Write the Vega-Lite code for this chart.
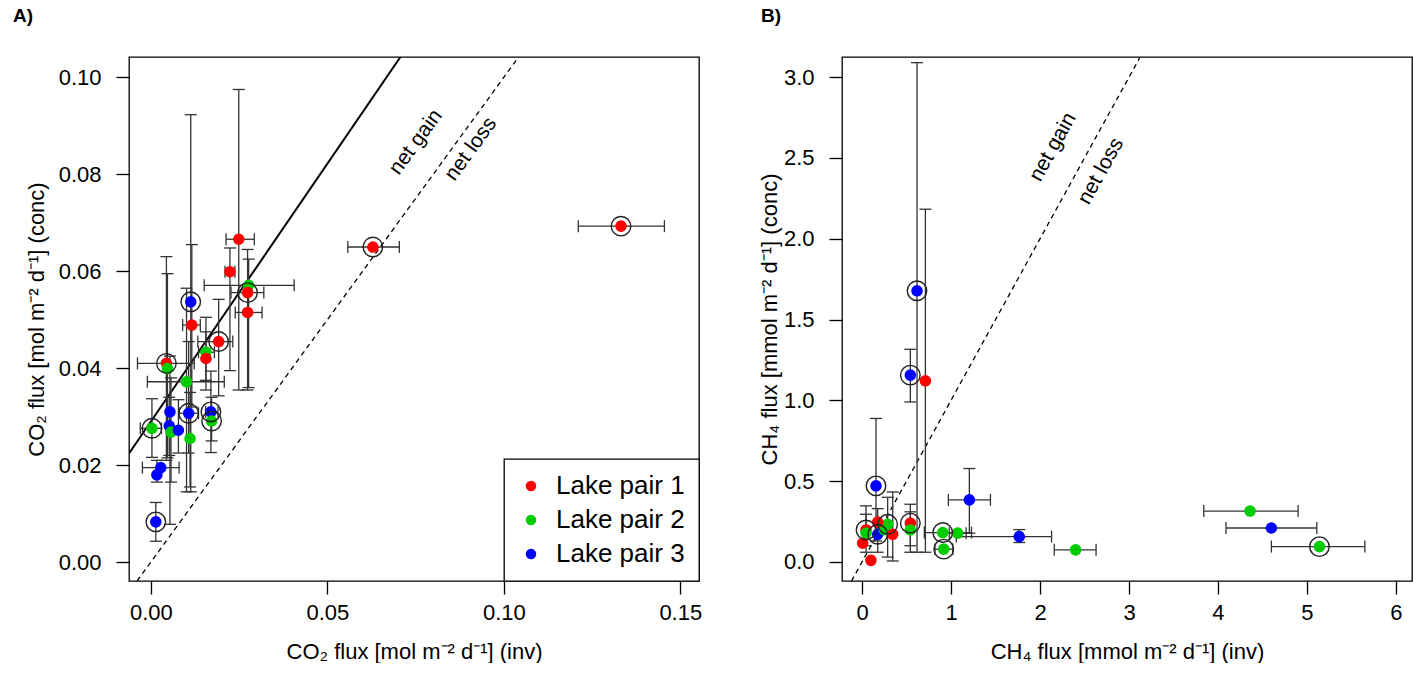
{
"$schema":"https://vega.github.io/schema/vega-lite/v6.json",
"background":"white",
"padding":{"left":12,"top":6,"right":0,"bottom":0},
"spacing":143,
"bounds":"flush",
"resolve":{"scale":{"color":"independent"},"legend":{"color":"independent"}},
"config":{
 "view":{"stroke":"black","strokeWidth":1.3},
 "axis":{"domain":false,"grid":false,"tickSize":13,"tickColor":"black","tickWidth":1.3,"labelFontSize":22,"titleFontSize":22,"labelFont":"Liberation Sans","titleFont":"Liberation Sans","labelColor":"black","titleColor":"black","titleFontWeight":"normal","labelFlush":false,"labelOverlap":false,"labelPadding":8,"titlePadding":18},
 "axisY":{"labelPadding":15,"titlePadding":10},
 "legend":{"orient":"bottom-right","offset":0,"strokeColor":"black","fillColor":"white","padding":14,"labelFontSize":26,"labelFont":"Liberation Sans","labelColor":"black","symbolType":"circle","symbolSize":110,"symbolStrokeWidth":0,"labelOffset":12,"rowPadding":8,"strokeWidth":1.3}
},
"datasets":{
"A":[
{"x":0.0249,"y":0.0666,"pair":"Lake pair 1","circ":false,"xlo":0.0213,"xhi":0.0293,"ylo":0.0355,"yhi":0.0975},
{"x":0.0224,"y":0.0599,"pair":"Lake pair 1","circ":false,"xlo":0.021,"xhi":0.0238,"ylo":0.0395,"yhi":0.0648},
{"x":0.0277,"y":0.0571,"pair":"Lake pair 2","circ":false,"xlo":0.0151,"xhi":0.0406,"ylo":0.036,"yhi":0.0625},
{"x":0.0274,"y":0.0556,"pair":"Lake pair 1","circ":true,"xlo":0.0227,"xhi":0.032,"ylo":0.0355,"yhi":0.0645},
{"x":0.0274,"y":0.0515,"pair":"Lake pair 1","circ":false,"xlo":0.0239,"xhi":0.0315,"ylo":null,"yhi":null},
{"x":0.0113,"y":0.0537,"pair":"Lake pair 3","circ":true,"xlo":null,"xhi":null,"ylo":0.0145,"yhi":0.0923},
{"x":0.0116,"y":0.0489,"pair":"Lake pair 1","circ":false,"xlo":0.009,"xhi":0.014,"ylo":0.032,"yhi":0.0655},
{"x":0.0192,"y":0.0455,"pair":"Lake pair 1","circ":true,"xlo":0.0133,"xhi":0.0232,"ylo":0.0343,"yhi":0.0542},
{"x":0.0156,"y":0.0433,"pair":"Lake pair 2","circ":false,"xlo":0.0135,"xhi":0.018,"ylo":0.0355,"yhi":0.0505},
{"x":0.0156,"y":0.042,"pair":"Lake pair 1","circ":false,"xlo":null,"xhi":null,"ylo":0.0375,"yhi":0.0475},
{"x":0.0044,"y":0.041,"pair":"Lake pair 1","circ":true,"xlo":-0.0038,"xhi":0.0123,"ylo":0.021,"yhi":0.063},
{"x":0.0047,"y":0.0399,"pair":"Lake pair 2","circ":false,"xlo":null,"xhi":null,"ylo":0.0215,"yhi":0.0595},
{"x":0.0101,"y":0.0372,"pair":"Lake pair 2","circ":false,"xlo":-0.001,"xhi":0.0208,"ylo":0.0145,"yhi":0.0565},
{"x":0.0054,"y":0.031,"pair":"Lake pair 3","circ":false,"xlo":null,"xhi":null,"ylo":0.0078,"yhi":0.0425},
{"x":0.0107,"y":0.0307,"pair":"Lake pair 3","circ":true,"xlo":0.008,"xhi":0.0135,"ylo":0.0225,"yhi":0.0455},
{"x":0.017,"y":0.031,"pair":"Lake pair 3","circ":true,"xlo":0.0155,"xhi":0.019,"ylo":0.0226,"yhi":0.0394},
{"x":0.0172,"y":0.0291,"pair":"Lake pair 2","circ":true,"xlo":null,"xhi":null,"ylo":0.025,"yhi":0.034},
{"x":0.0003,"y":0.0276,"pair":"Lake pair 2","circ":true,"xlo":-0.003,"xhi":0.003,"ylo":0.0216,"yhi":0.0337},
{"x":0.0052,"y":0.0281,"pair":"Lake pair 3","circ":false,"xlo":null,"xhi":null,"ylo":0.022,"yhi":0.034},
{"x":0.0057,"y":0.0268,"pair":"Lake pair 2","circ":false,"xlo":null,"xhi":null,"ylo":0.0165,"yhi":0.038},
{"x":0.0078,"y":0.0272,"pair":"Lake pair 3","circ":false,"xlo":null,"xhi":null,"ylo":0.0225,"yhi":0.0335},
{"x":0.0111,"y":0.0255,"pair":"Lake pair 2","circ":false,"xlo":null,"xhi":null,"ylo":0.0155,"yhi":0.035},
{"x":0.0028,"y":0.0195,"pair":"Lake pair 3","circ":false,"xlo":-0.0024,"xhi":0.008,"ylo":null,"yhi":null},
{"x":0.0017,"y":0.018,"pair":"Lake pair 3","circ":false,"xlo":null,"xhi":null,"ylo":0.0165,"yhi":0.021},
{"x":0.0014,"y":0.0083,"pair":"Lake pair 3","circ":true,"xlo":null,"xhi":null,"ylo":0.0043,"yhi":0.0123},
{"x":0.0629,"y":0.065,"pair":"Lake pair 1","circ":true,"xlo":0.0558,"xhi":0.0704,"ylo":null,"yhi":null},
{"x":0.1332,"y":0.0693,"pair":"Lake pair 1","circ":true,"xlo":0.1211,"xhi":0.1455,"ylo":null,"yhi":null}
],
"B":[
{"x":0.618,"y":1.678,"pair":"Lake pair 3","circ":true,"xlo":null,"xhi":null,"ylo":0.06,"yhi":3.09},
{"x":0.712,"y":1.121,"pair":"Lake pair 1","circ":false,"xlo":null,"xhi":null,"ylo":0.06,"yhi":2.183},
{"x":0.543,"y":1.156,"pair":"Lake pair 3","circ":true,"xlo":null,"xhi":null,"ylo":0.99,"yhi":1.316},
{"x":0.157,"y":0.471,"pair":"Lake pair 3","circ":true,"xlo":null,"xhi":null,"ylo":0.13,"yhi":0.888},
{"x":1.206,"y":0.384,"pair":"Lake pair 3","circ":false,"xlo":0.97,"xhi":1.443,"ylo":0.178,"yhi":0.578},
{"x":0.045,"y":0.198,"pair":"Lake pair 1","circ":true,"xlo":null,"xhi":null,"ylo":0.06,"yhi":0.347},
{"x":0.045,"y":0.178,"pair":"Lake pair 2","circ":false,"xlo":null,"xhi":null,"ylo":0.1,"yhi":0.295},
{"x":0.007,"y":0.116,"pair":"Lake pair 1","circ":false,"xlo":null,"xhi":null,"ylo":null,"yhi":null},
{"x":0.1,"y":0.01,"pair":"Lake pair 1","circ":false,"xlo":null,"xhi":null,"ylo":null,"yhi":null},
{"x":0.176,"y":0.171,"pair":"Lake pair 3","circ":true,"xlo":null,"xhi":null,"ylo":0.06,"yhi":0.33},
{"x":0.288,"y":0.233,"pair":"Lake pair 2","circ":true,"xlo":null,"xhi":null,"ylo":0.03,"yhi":0.4},
{"x":0.25,"y":0.2,"pair":"Lake pair 2","circ":false,"xlo":null,"xhi":null,"ylo":null,"yhi":null},
{"x":0.345,"y":0.171,"pair":"Lake pair 1","circ":false,"xlo":null,"xhi":null,"ylo":0.006,"yhi":0.433},
{"x":0.176,"y":0.246,"pair":"Lake pair 1","circ":false,"xlo":null,"xhi":null,"ylo":null,"yhi":null},
{"x":0.543,"y":0.24,"pair":"Lake pair 1","circ":true,"xlo":null,"xhi":null,"ylo":0.06,"yhi":0.357},
{"x":0.543,"y":0.198,"pair":"Lake pair 2","circ":false,"xlo":null,"xhi":null,"ylo":0.1,"yhi":0.31},
{"x":0.907,"y":0.182,"pair":"Lake pair 2","circ":true,"xlo":0.7,"xhi":1.23,"ylo":null,"yhi":null},
{"x":1.075,"y":0.178,"pair":"Lake pair 2","circ":false,"xlo":0.98,"xhi":1.17,"ylo":null,"yhi":null},
{"x":0.918,"y":0.079,"pair":"Lake pair 2","circ":true,"xlo":0.82,"xhi":1.02,"ylo":null,"yhi":null},
{"x":1.767,"y":0.157,"pair":"Lake pair 3","circ":false,"xlo":1.06,"xhi":2.13,"ylo":0.12,"yhi":0.2},
{"x":2.4,"y":0.075,"pair":"Lake pair 2","circ":false,"xlo":2.16,"xhi":2.63,"ylo":null,"yhi":null},
{"x":4.36,"y":0.315,"pair":"Lake pair 2","circ":false,"xlo":3.84,"xhi":4.9,"ylo":null,"yhi":null},
{"x":4.6,"y":0.21,"pair":"Lake pair 3","circ":false,"xlo":4.09,"xhi":5.11,"ylo":null,"yhi":null},
{"x":5.14,"y":0.095,"pair":"Lake pair 2","circ":true,"xlo":4.6,"xhi":5.65,"ylo":null,"yhi":null}
]
},
"hconcat":[
{
"width":570,"height":524,
"title":{"text":"A)","anchor":"start","frame":"group","dx":-116,"offset":31,"fontSize":19,"fontWeight":"bold","font":"Liberation Sans","color":"black"},
"layer":[
{"data":{"values":[{"x1":-0.0062,"y1":0.0224,"x2":0.0707,"y2":0.1042}]},
 "mark":{"type":"rule","clip":true,"color":"black","strokeWidth":2},
 "encoding":{"x":{"field":"x1","type":"quantitative","scale":{"domain":[-0.0062,0.1553],"nice":false,"zero":false},"title":"CO₂ flux [mol m⁻² d⁻¹] (inv)"},"y":{"field":"y1","type":"quantitative","scale":{"domain":[-0.0039,0.1042],"nice":false,"zero":false},"title":"CO₂ flux [mol m⁻² d⁻¹] (conc)"},"x2":{"field":"x2"},"y2":{"field":"y2"}}},
{"data":{"values":[{"x1":-0.0039,"y1":-0.0039,"x2":0.1042,"y2":0.1042}]},
 "mark":{"type":"rule","clip":true,"color":"black","strokeWidth":1.3,"strokeDash":[5,4]},
 "encoding":{"x":{"field":"x1","type":"quantitative","scale":{"domain":[-0.0062,0.1553],"nice":false,"zero":false},"title":"CO₂ flux [mol m⁻² d⁻¹] (inv)"},"y":{"field":"y1","type":"quantitative","scale":{"domain":[-0.0039,0.1042],"nice":false,"zero":false},"title":"CO₂ flux [mol m⁻² d⁻¹] (conc)"},"x2":{"field":"x2"},"y2":{"field":"y2"}}},
{"data":{"values":[{"x":0.0751,"y":0.0866,"t":"net gain"},{"x":0.0907,"y":0.0852,"t":"net loss"}]},
 "mark":{"type":"text","angle":-54,"fontSize":21,"font":"Liberation Sans","color":"black"},
 "encoding":{"x":{"field":"x","type":"quantitative","scale":{"domain":[-0.0062,0.1553],"nice":false,"zero":false},"title":"CO₂ flux [mol m⁻² d⁻¹] (inv)"},"y":{"field":"y","type":"quantitative","scale":{"domain":[-0.0039,0.1042],"nice":false,"zero":false},"title":"CO₂ flux [mol m⁻² d⁻¹] (conc)"},"text":{"field":"t"}}},
{"data":{"name":"A"},"transform":[{"filter":"datum.ylo != null"}],
 "mark":{"type":"rule","color":"#333333","strokeWidth":1.3},
 "encoding":{"x":{"field":"x","type":"quantitative","scale":{"domain":[-0.0062,0.1553],"nice":false,"zero":false},"title":"CO₂ flux [mol m⁻² d⁻¹] (inv)"},"y":{"field":"ylo","type":"quantitative","scale":{"domain":[-0.0039,0.1042],"nice":false,"zero":false},"title":"CO₂ flux [mol m⁻² d⁻¹] (conc)"},"y2":{"field":"yhi"}}},
{"data":{"name":"A"},"transform":[{"filter":"datum.ylo != null"}],
 "mark":{"type":"tick","orient":"horizontal","size":12,"thickness":1.3,"color":"#333333","opacity":1},
 "encoding":{"x":{"field":"x","type":"quantitative","scale":{"domain":[-0.0062,0.1553],"nice":false,"zero":false},"title":"CO₂ flux [mol m⁻² d⁻¹] (inv)"},"y":{"field":"ylo","type":"quantitative","scale":{"domain":[-0.0039,0.1042],"nice":false,"zero":false},"title":"CO₂ flux [mol m⁻² d⁻¹] (conc)"}}},
{"data":{"name":"A"},"transform":[{"filter":"datum.yhi != null"}],
 "mark":{"type":"tick","orient":"horizontal","size":12,"thickness":1.3,"color":"#333333","opacity":1},
 "encoding":{"x":{"field":"x","type":"quantitative","scale":{"domain":[-0.0062,0.1553],"nice":false,"zero":false},"title":"CO₂ flux [mol m⁻² d⁻¹] (inv)"},"y":{"field":"yhi","type":"quantitative","scale":{"domain":[-0.0039,0.1042],"nice":false,"zero":false},"title":"CO₂ flux [mol m⁻² d⁻¹] (conc)"}}},
{"data":{"name":"A"},"transform":[{"filter":"datum.xlo != null"}],
 "mark":{"type":"rule","color":"#333333","strokeWidth":1.3},
 "encoding":{"x":{"field":"xlo","type":"quantitative","scale":{"domain":[-0.0062,0.1553],"nice":false,"zero":false},"title":"CO₂ flux [mol m⁻² d⁻¹] (inv)"},"x2":{"field":"xhi"},"y":{"field":"y","type":"quantitative","scale":{"domain":[-0.0039,0.1042],"nice":false,"zero":false},"title":"CO₂ flux [mol m⁻² d⁻¹] (conc)"}}},
{"data":{"name":"A"},"transform":[{"filter":"datum.xlo != null"}],
 "mark":{"type":"tick","orient":"vertical","size":12,"thickness":1.3,"color":"#333333","opacity":1},
 "encoding":{"x":{"field":"xlo","type":"quantitative","scale":{"domain":[-0.0062,0.1553],"nice":false,"zero":false},"title":"CO₂ flux [mol m⁻² d⁻¹] (inv)"},"y":{"field":"y","type":"quantitative","scale":{"domain":[-0.0039,0.1042],"nice":false,"zero":false},"title":"CO₂ flux [mol m⁻² d⁻¹] (conc)"}}},
{"data":{"name":"A"},"transform":[{"filter":"datum.xhi != null"}],
 "mark":{"type":"tick","orient":"vertical","size":12,"thickness":1.3,"color":"#333333","opacity":1},
 "encoding":{"x":{"field":"xhi","type":"quantitative","scale":{"domain":[-0.0062,0.1553],"nice":false,"zero":false},"title":"CO₂ flux [mol m⁻² d⁻¹] (inv)"},"y":{"field":"y","type":"quantitative","scale":{"domain":[-0.0039,0.1042],"nice":false,"zero":false},"title":"CO₂ flux [mol m⁻² d⁻¹] (conc)"}}},
{"data":{"name":"A"},
 "mark":{"type":"point","filled":true,"opacity":1,"size":135,"shape":"circle"},
 "encoding":{"x":{"field":"x","type":"quantitative","scale":{"domain":[-0.0062,0.1553],"nice":false,"zero":false},"title":"CO₂ flux [mol m⁻² d⁻¹] (inv)","axis":{"values":[0,0.05,0.1,0.15],"format":".2f"}},"y":{"field":"y","type":"quantitative","scale":{"domain":[-0.0039,0.1042],"nice":false,"zero":false},"title":"CO₂ flux [mol m⁻² d⁻¹] (conc)","axis":{"values":[0,0.02,0.04,0.06,0.08,0.1],"format":".2f"}},
 "color":{"field":"pair","type":"nominal","scale":{"domain":["Lake pair 1","Lake pair 2","Lake pair 3"],"range":["#ff0000","#00cd00","#0000ff"]},"legend":{"title":null}}}},
{"data":{"name":"A"},"transform":[{"filter":"datum.circ"}],
 "mark":{"type":"point","filled":false,"opacity":1,"size":380,"shape":"circle","stroke":"#222222","strokeWidth":1.4},
 "encoding":{"x":{"field":"x","type":"quantitative","scale":{"domain":[-0.0062,0.1553],"nice":false,"zero":false},"title":"CO₂ flux [mol m⁻² d⁻¹] (inv)"},"y":{"field":"y","type":"quantitative","scale":{"domain":[-0.0039,0.1042],"nice":false,"zero":false},"title":"CO₂ flux [mol m⁻² d⁻¹] (conc)"}}}
]
},
{
"width":570,"height":524,
"title":{"text":"B)","anchor":"start","frame":"group","dx":-81,"offset":31,"fontSize":19,"fontWeight":"bold","font":"Liberation Sans","color":"black"},
"layer":[
{"data":{"values":[{"x1":-0.118,"y1":-0.118,"x2":3.125,"y2":3.125}]},
 "mark":{"type":"rule","clip":true,"color":"black","strokeWidth":1.3,"strokeDash":[5,4]},
 "encoding":{"x":{"field":"x1","type":"quantitative","scale":{"domain":[-0.225,6.18],"nice":false,"zero":false},"title":"CH₄ flux [mmol m⁻² d⁻¹] (inv)"},"y":{"field":"y1","type":"quantitative","scale":{"domain":[-0.118,3.125],"nice":false,"zero":false},"title":"CH₄ flux [mmol m⁻² d⁻¹] (conc)"},"x2":{"field":"x2"},"y2":{"field":"y2"}}},
{"data":{"values":[{"x":2.146,"y":2.567,"t":"net gain"},{"x":2.685,"y":2.418,"t":"net loss"}]},
 "mark":{"type":"text","angle":-61,"fontSize":21,"font":"Liberation Sans","color":"black"},
 "encoding":{"x":{"field":"x","type":"quantitative","scale":{"domain":[-0.225,6.18],"nice":false,"zero":false},"title":"CH₄ flux [mmol m⁻² d⁻¹] (inv)"},"y":{"field":"y","type":"quantitative","scale":{"domain":[-0.118,3.125],"nice":false,"zero":false},"title":"CH₄ flux [mmol m⁻² d⁻¹] (conc)"},"text":{"field":"t"}}},
{"data":{"name":"B"},"transform":[{"filter":"datum.ylo != null"}],
 "mark":{"type":"rule","color":"#333333","strokeWidth":1.3},
 "encoding":{"x":{"field":"x","type":"quantitative","scale":{"domain":[-0.225,6.18],"nice":false,"zero":false},"title":"CH₄ flux [mmol m⁻² d⁻¹] (inv)"},"y":{"field":"ylo","type":"quantitative","scale":{"domain":[-0.118,3.125],"nice":false,"zero":false},"title":"CH₄ flux [mmol m⁻² d⁻¹] (conc)"},"y2":{"field":"yhi"}}},
{"data":{"name":"B"},"transform":[{"filter":"datum.ylo != null"}],
 "mark":{"type":"tick","orient":"horizontal","size":12,"thickness":1.3,"color":"#333333","opacity":1},
 "encoding":{"x":{"field":"x","type":"quantitative","scale":{"domain":[-0.225,6.18],"nice":false,"zero":false},"title":"CH₄ flux [mmol m⁻² d⁻¹] (inv)"},"y":{"field":"ylo","type":"quantitative","scale":{"domain":[-0.118,3.125],"nice":false,"zero":false},"title":"CH₄ flux [mmol m⁻² d⁻¹] (conc)"}}},
{"data":{"name":"B"},"transform":[{"filter":"datum.yhi != null"}],
 "mark":{"type":"tick","orient":"horizontal","size":12,"thickness":1.3,"color":"#333333","opacity":1},
 "encoding":{"x":{"field":"x","type":"quantitative","scale":{"domain":[-0.225,6.18],"nice":false,"zero":false},"title":"CH₄ flux [mmol m⁻² d⁻¹] (inv)"},"y":{"field":"yhi","type":"quantitative","scale":{"domain":[-0.118,3.125],"nice":false,"zero":false},"title":"CH₄ flux [mmol m⁻² d⁻¹] (conc)"}}},
{"data":{"name":"B"},"transform":[{"filter":"datum.xlo != null"}],
 "mark":{"type":"rule","color":"#333333","strokeWidth":1.3},
 "encoding":{"x":{"field":"xlo","type":"quantitative","scale":{"domain":[-0.225,6.18],"nice":false,"zero":false},"title":"CH₄ flux [mmol m⁻² d⁻¹] (inv)"},"x2":{"field":"xhi"},"y":{"field":"y","type":"quantitative","scale":{"domain":[-0.118,3.125],"nice":false,"zero":false},"title":"CH₄ flux [mmol m⁻² d⁻¹] (conc)"}}},
{"data":{"name":"B"},"transform":[{"filter":"datum.xlo != null"}],
 "mark":{"type":"tick","orient":"vertical","size":12,"thickness":1.3,"color":"#333333","opacity":1},
 "encoding":{"x":{"field":"xlo","type":"quantitative","scale":{"domain":[-0.225,6.18],"nice":false,"zero":false},"title":"CH₄ flux [mmol m⁻² d⁻¹] (inv)"},"y":{"field":"y","type":"quantitative","scale":{"domain":[-0.118,3.125],"nice":false,"zero":false},"title":"CH₄ flux [mmol m⁻² d⁻¹] (conc)"}}},
{"data":{"name":"B"},"transform":[{"filter":"datum.xhi != null"}],
 "mark":{"type":"tick","orient":"vertical","size":12,"thickness":1.3,"color":"#333333","opacity":1},
 "encoding":{"x":{"field":"xhi","type":"quantitative","scale":{"domain":[-0.225,6.18],"nice":false,"zero":false},"title":"CH₄ flux [mmol m⁻² d⁻¹] (inv)"},"y":{"field":"y","type":"quantitative","scale":{"domain":[-0.118,3.125],"nice":false,"zero":false},"title":"CH₄ flux [mmol m⁻² d⁻¹] (conc)"}}},
{"data":{"name":"B"},
 "mark":{"type":"point","filled":true,"opacity":1,"size":135,"shape":"circle"},
 "encoding":{"x":{"field":"x","type":"quantitative","scale":{"domain":[-0.225,6.18],"nice":false,"zero":false},"title":"CH₄ flux [mmol m⁻² d⁻¹] (inv)","axis":{"values":[0,1,2,3,4,5,6],"format":"d"}},"y":{"field":"y","type":"quantitative","scale":{"domain":[-0.118,3.125],"nice":false,"zero":false},"title":"CH₄ flux [mmol m⁻² d⁻¹] (conc)","axis":{"values":[0,0.5,1,1.5,2,2.5,3],"format":".1f","titlePadding":2}},
 "color":{"field":"pair","type":"nominal","scale":{"domain":["Lake pair 1","Lake pair 2","Lake pair 3"],"range":["#ff0000","#00cd00","#0000ff"]},"legend":null}}},
{"data":{"name":"B"},"transform":[{"filter":"datum.circ"}],
 "mark":{"type":"point","filled":false,"opacity":1,"size":380,"shape":"circle","stroke":"#222222","strokeWidth":1.4},
 "encoding":{"x":{"field":"x","type":"quantitative","scale":{"domain":[-0.225,6.18],"nice":false,"zero":false},"title":"CH₄ flux [mmol m⁻² d⁻¹] (inv)"},"y":{"field":"y","type":"quantitative","scale":{"domain":[-0.118,3.125],"nice":false,"zero":false},"title":"CH₄ flux [mmol m⁻² d⁻¹] (conc)"}}}
]
}
]
}
